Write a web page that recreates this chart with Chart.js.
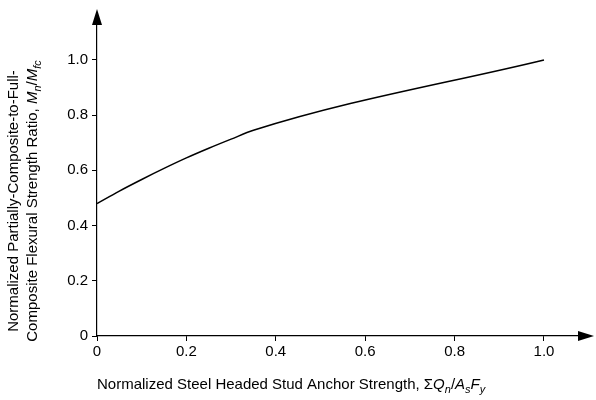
<!DOCTYPE html>
<html><head><meta charset="utf-8">
<script src="https://cdn.jsdelivr.net/npm/chart.js@4"></script>
<style>body{margin:0;background:#fff}#wrap{width:596px;height:400px}</style>
</head><body><div id="wrap"><canvas id="c"></canvas></div>
<script>
// curve
const xVals = [0, 0.05, 0.1, 0.15, 0.2, 0.25, 0.3, 0.35, 1.0];
const yVals = [0.48, 0.525, 0.567, 0.607, 0.645, 0.68, 0.713, 0.745, 1.0];
const xTicks = [0, 0.2, 0.4, 0.6, 0.8, 1.0];
const yTicks = [0, 0.2, 0.4, 0.6, 0.8, 1.0];
const FONT = '"Liberation Sans", Arial, sans-serif';

// draw runs of [text, italic, sub]
function rich(ctx, runs, x, y) {
  let cx = x;
  runs.forEach(r => {
    const size = r[2] ? 11 : 15;
    ctx.font = (r[1] ? 'italic ' : '') + size + 'px ' + FONT;
    ctx.fillText(r[0], cx, y + (r[2] ? 4 : 0));
    cx += ctx.measureText(r[0]).width;
  });
}
function richWidth(ctx, runs) {
  let w = 0;
  runs.forEach(r => { ctx.font = (r[1] ? 'italic ' : '') + (r[2] ? 11 : 15) + 'px ' + FONT; w += ctx.measureText(r[0]).width; });
  return w;
}

const decor = {
  id: 'decor',
  afterDraw(chart) {
    const ctx = chart.ctx, a = chart.chartArea;
    ctx.save();
    ctx.fillStyle = '#000';
    // arrow heads
    ctx.beginPath();
    ctx.moveTo(a.right + 4, a.bottom); ctx.lineTo(a.right - 12, a.bottom - 5); ctx.lineTo(a.right - 12, a.bottom + 5); ctx.fill();
    ctx.beginPath();
    ctx.moveTo(a.left, a.top - 4); ctx.lineTo(a.left - 5, a.top + 12); ctx.lineTo(a.left + 5, a.top + 12); ctx.fill();
    // x title
    ctx.textBaseline = 'alphabetic';
    const xr = [['Normalized Steel Headed Stud Anchor Strength, \u03A3'], ['Q', true], ['n', true, true], ['/'], ['A', true], ['s', true, true], ['F', true], ['y', true, true]];
    rich(ctx, xr, 97, 389);
    // y title (rotated, two lines)
    ctx.translate(0, 196); ctx.rotate(-Math.PI / 2);
    const l1 = [['Normalized Partially-Composite-to-Full-']];
    const l2 = [['Composite Flexural Strength Ratio, '], ['M', true], ['n', true, true], ['/'], ['M', true], ['fc', true, true]];
    rich(ctx, l1, -richWidth(ctx, l1) / 2 - 5, 18);
    rich(ctx, l2, -richWidth(ctx, l2) / 2 - 5, 37);
    ctx.restore();
  }
};

new Chart(document.getElementById('c'), {
  type: 'line',
  data: { datasets: [{ data: xVals.map((x, i) => ({ x, y: yVals[i] })), borderColor: '#000', borderWidth: 1.5, pointRadius: 0, cubicInterpolationMode: 'monotone' }] },
  options: {
    responsive: true, maintainAspectRatio: false, animation: false,
    layout: { padding: { top: 0, right: 6, left: 0, bottom: 0 } },
    plugins: { legend: { display: false }, tooltip: { enabled: false } },
    scales: {
      x: {
        type: 'linear', min: 0, max: 1.103,
        afterBuildTicks: s => { s.ticks = xTicks.map(v => ({ value: v })); },
        afterFit: s => { s.height = 64; },
        grid: { drawOnChartArea: false, tickLength: 5, color: '#000' },
        border: { color: '#000', width: 1.2 },
        ticks: { color: '#000', font: { family: FONT, size: 15 }, padding: 2, maxRotation: 0, callback: v => v === 0 ? '0' : v.toFixed(1) }
      },
      y: {
        min: 0, max: 1.17,
        afterBuildTicks: s => { s.ticks = yTicks.map(v => ({ value: v })); },
        afterFit: s => { s.width = 97; },
        grid: { drawOnChartArea: false, tickLength: 5, color: '#000' },
        border: { color: '#000', width: 1.2 },
        ticks: { color: '#000', font: { family: FONT, size: 15 }, padding: 4, callback: v => v === 0 ? '0' : v.toFixed(1) }
      }
    }
  },
  plugins: [decor]
});
</script></body></html>
